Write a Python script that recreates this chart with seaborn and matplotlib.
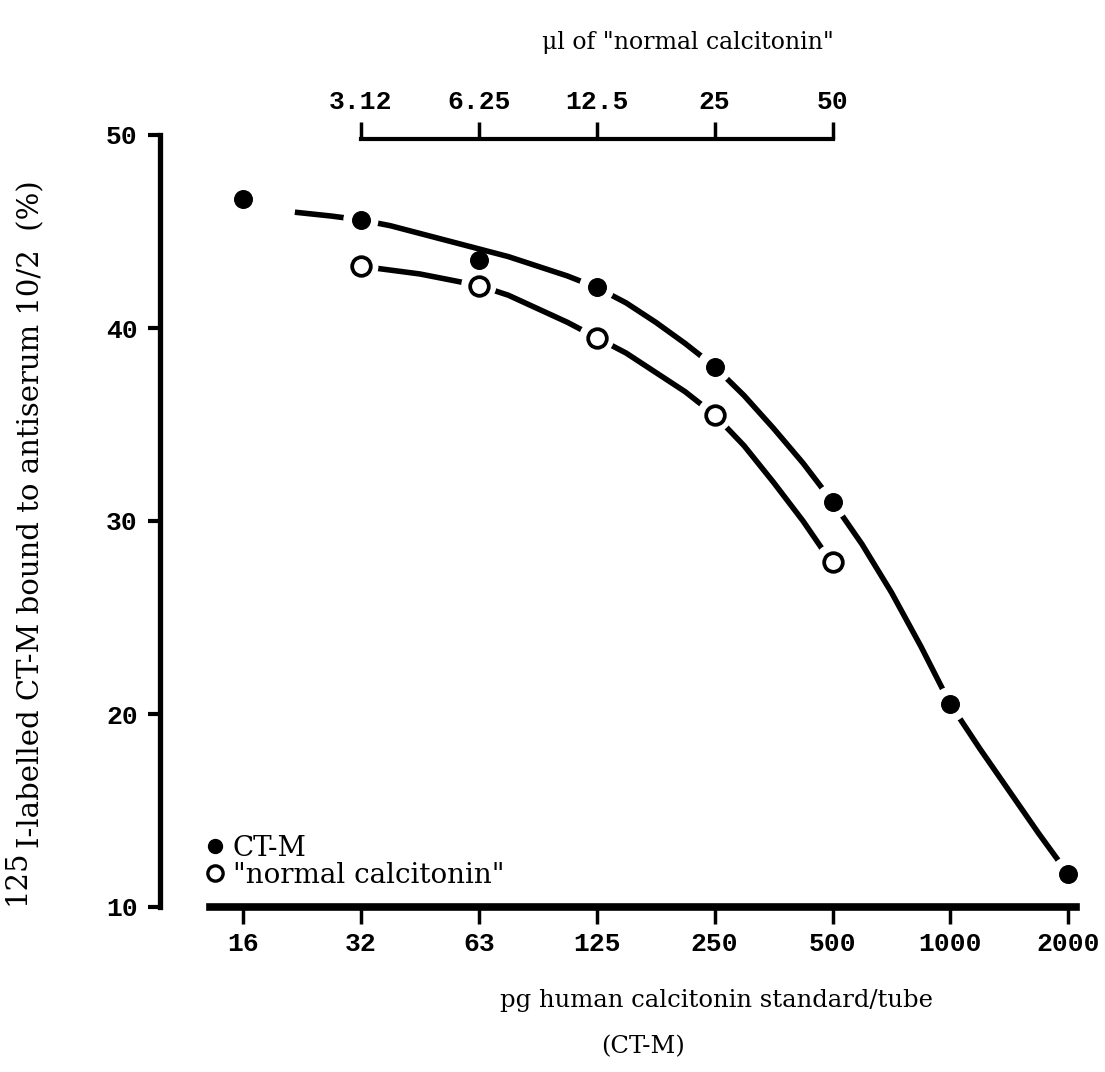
import numpy as np
import pandas as pd
import matplotlib
matplotlib.use("Agg")
import matplotlib.pyplot as plt
import seaborn as sns
from matplotlib.lines import Line2D

# ---------------- data ----------------
dose_labels = ["16", "32", "63", "125", "250", "500", "1000", "2000"]
dose_pos = [0, 1, 2, 3, 4, 5, 6, 7]

ctm_pos = [0, 1, 2, 3, 4, 5, 6, 7]
ctm_vals = [46.7, 45.6, 43.5, 42.1, 38.0, 31.0, 20.5, 11.7]
ctm_on_curve = [False, True, False, True, True, True, True, True]

normal_pos = [1, 2, 3, 4, 5]
normal_vals = [43.2, 42.2, 39.5, 35.5, 27.9]

# hand-drawn smooth curves, read along their length
ctm_curve_pos = [0.44, 0.75, 1.0, 1.25, 1.5, 1.75, 2.0, 2.25, 2.5, 2.75, 3.0, 3.25, 3.5,
                 3.75, 4.0, 4.25, 4.5, 4.75, 5.0, 5.25, 5.5, 5.75, 6.0, 6.25, 6.5, 6.75, 7.0]
ctm_curve_vals = [46.0, 45.8, 45.6, 45.3, 44.9, 44.5, 44.1, 43.7, 43.2, 42.7, 42.1, 41.3, 40.3,
                  39.2, 38.0, 36.5, 34.8, 33.0, 31.0, 28.8, 26.3, 23.5, 20.5, 18.2, 16.0, 13.8, 11.7]

normal_curve_pos = [1.0, 1.25, 1.5, 1.75, 2.0, 2.25, 2.5, 2.75, 3.0, 3.25, 3.5, 3.75, 4.0,
                    4.25, 4.5, 4.75, 4.93]
normal_curve_vals = [43.2, 43.0, 42.8, 42.5, 42.2, 41.7, 41.0, 40.3, 39.5, 38.7, 37.7, 36.7, 35.5,
                     33.9, 32.0, 30.0, 28.4]

top_labels = ["3.12", "6.25", "12.5", "25", "50"]
top_pos = [1, 2, 3, 4, 5]

y_ticks = [10, 20, 30, 40, 50]

# ---------------- style ----------------
sns.set_theme(style="white")
plt.rcParams["font.family"] = ["DejaVu Serif", "DejaVu Sans"]
plt.rcParams["mathtext.fontset"] = "dejavuserif"
for k in ["text.color", "axes.labelcolor", "xtick.color", "ytick.color"]:
    plt.rcParams[k] = "black"

num_font = dict(family=["Liberation Mono", "DejaVu Sans Mono"], weight="bold", size=19)

W, H = 1105, 1072
fig = plt.figure(figsize=(W / 100, H / 100), dpi=100)
fig.patch.set_facecolor("white")

ax_left, ax_right = 160, 1090
ax = fig.add_axes([ax_left / W, (H - 907) / H, (ax_right - ax_left) / W, (907 - 135) / H])
ax.set_facecolor("white")
x0, dx = 243.0, 117.9
ax.set_xlim((ax_left - x0) / dx, (ax_right - x0) / dx)
ax.set_ylim(10, 50)

# curves
ctm_curve = pd.DataFrame({"x": ctm_curve_pos, "y": ctm_curve_vals})
normal_curve = pd.DataFrame({"x": normal_curve_pos, "y": normal_curve_vals})
for cdf in (ctm_curve, normal_curve):
    sns.lineplot(data=cdf, x="x", y="y", ax=ax, color="black", linewidth=4.0,
                 sort=False, zorder=2, solid_capstyle="butt", solid_joinstyle="round")

# white halos create the gaps where the curves meet the points
ctm_df = pd.DataFrame({"x": ctm_pos, "y": ctm_vals, "on": ctm_on_curve})
normal_df = pd.DataFrame({"x": normal_pos, "y": normal_vals})
for d in (ctm_df[ctm_df["on"]], normal_df):
    sns.scatterplot(data=d, x="x", y="y", ax=ax, s=640, color="white",
                    edgecolor="none", linewidth=0, zorder=3)

sns.scatterplot(data=ctm_df, x="x", y="y", ax=ax, s=160, color="black",
                edgecolor="black", linewidth=1, zorder=4)
sns.scatterplot(data=normal_df, x="x", y="y", ax=ax, s=180, color="white",
                edgecolor="black", linewidth=2.7, zorder=4)

# spines
for s in ["top", "right"]:
    ax.spines[s].set_visible(False)
ax.spines["left"].set_linewidth(3.8)
ax.spines["left"].set_color("black")
ax.spines["left"].set_bounds(10, 50)
ax.spines["bottom"].set_linewidth(5.5)
ax.spines["bottom"].set_color("black")
ax.spines["bottom"].set_bounds((210 - x0) / dx, (1076 - x0) / dx)

ax.set_yticks(y_ticks)
ax.set_yticklabels([str(v) for v in y_ticks], fontdict=num_font)
ax.set_xticks(dose_pos)
ax.set_xticklabels(dose_labels, fontdict=num_font)
ax.tick_params(axis="y", direction="out", length=9, width=3, pad=7, left=True)
ax.tick_params(axis="x", direction="out", length=12, width=2.5, pad=6, bottom=True)
ax.set_xlabel("")
ax.set_ylabel("")

# top bracket axis (µl of "normal calcitonin")
sec = ax.secondary_xaxis(0.995)
sec.set_xticks(top_pos)
sec.set_xticklabels(top_labels, fontdict=num_font)
for s in sec.spines.values():
    s.set_visible(False)
sec.spines["top"].set_visible(True)
sec.spines["top"].set_bounds(1, 5)
sec.spines["top"].set_linewidth(3)
sec.spines["top"].set_color("black")
sec.tick_params(axis="x", direction="out", length=12, width=2.5, pad=6, colors="black")

# texts
fig.text(688 / W, 1 - 42 / H, "\u03bcl of \"normal calcitonin\"", ha="center", va="center",
         fontsize=17)
fig.text(717 / W, 1 - 1000 / H, "pg human calcitonin standard/tube", ha="center", va="center",
         fontsize=17.5)
fig.text(643 / W, 1 - 1047 / H, "(CT-M)", ha="center", va="center", fontsize=17.5)

# y label: "125" raised, then the rest
ylab_size = 21
renderer = fig.canvas.get_renderer()
t1 = fig.text(16 / W, 1 - 905 / H, "125", rotation=90, rotation_mode="anchor",
              ha="left", va="center", fontsize=ylab_size)
bb = t1.get_window_extent(renderer)
fig.text(31 / W, (bb.y1 + 2) / H, "I-labelled CT-M bound to antiserum 10/2  (%)",
         rotation=90, rotation_mode="anchor", ha="left", va="center", fontsize=ylab_size)

# legend
handles = [
    Line2D([], [], marker="o", linestyle="none", markerfacecolor="black",
           markeredgecolor="black", markersize=10),
    Line2D([], [], marker="o", linestyle="none", markerfacecolor="white",
           markeredgecolor="black", markeredgewidth=2.4, markersize=11),
]
leg = ax.legend(handles, ["CT-M", "\"normal calcitonin\""], loc="upper left",
                bbox_to_anchor=(201 / W, 1 - 835 / H), bbox_transform=fig.transFigure,
                frameon=False, fontsize=20, handletextpad=0.15, handlelength=1.0,
                labelspacing=0.0, borderpad=0, borderaxespad=0)

fig.savefig("out.png", dpi=100, facecolor="white")
